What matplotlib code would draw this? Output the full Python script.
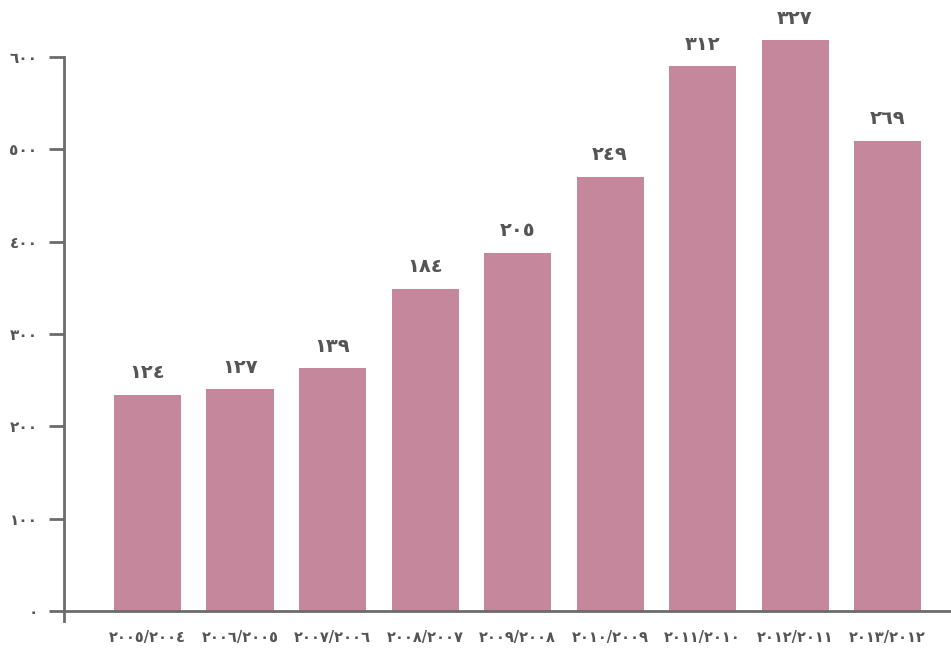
import matplotlib
matplotlib.use('Agg')
import matplotlib.pyplot as plt

# Data
categories = ['٢٠٠٥/٢٠٠٤', '٢٠٠٦/٢٠٠٥', '٢٠٠٧/٢٠٠٦', '٢٠٠٨/٢٠٠٧', '٢٠٠٩/٢٠٠٨',
              '٢٠١٠/٢٠٠٩', '٢٠١١/٢٠١٠', '٢٠١٢/٢٠١١', '٢٠١٣/٢٠١٢']
heights = [234, 240, 263, 349, 388, 470, 590, 618, 509]
bar_labels = ['١٢٤', '١٢٧', '١٣٩', '١٨٤', '٢٠٥', '٢٤٩', '٣١٢', '٣٢٧', '٢٦٩']
yticks = [0, 100, 200, 300, 400, 500, 600]
ytick_labels = ['٠', '١٠٠', '٢٠٠', '٣٠٠', '٤٠٠', '٥٠٠', '٦٠٠']

plt.rcParams['font.family'] = ['DejaVu Sans']
axis_col = '#6b6b6d'
text_col = '#555555'

fig = plt.figure(figsize=(9.51, 6.52), dpi=100)
# axes placed in pixel terms: spine at x=64, zero line at y=611
ax = fig.add_axes([64 / 951, (652 - 621) / 652, (951 - 64) / 951, (621 - 20) / 652])

x = list(range(len(categories)))
ax.bar(x, heights, width=0.725, color='#c5879b', zorder=2)

for xi, h, lab in zip(x, heights, bar_labels):
    ax.annotate(lab, (xi, h), xytext=(0, 9), textcoords='offset points',
                ha='center', va='bottom', fontsize=14, fontweight='bold', color=text_col)

ax.set_xlim(-0.903, 8.686)
ax.set_ylim(-10.8, 640)

ax.set_yticks(yticks)
ax.set_yticklabels(ytick_labels)
ax.set_xticks(x)
ax.set_xticklabels(categories)

for s in ['top', 'right']:
    ax.spines[s].set_visible(False)
ax.spines['bottom'].set_position(('data', 0))
ax.spines['left'].set_bounds(-10.8, 600)
for s in ['left', 'bottom']:
    ax.spines[s].set_color(axis_col)
    ax.spines[s].set_linewidth(2)

ax.tick_params(axis='y', length=11, width=2, color=axis_col, labelcolor=text_col,
               labelsize=11, pad=8)
ax.tick_params(axis='x', length=0, labelcolor=text_col, labelsize=10.5, pad=14)
for t in ax.get_yticklabels() + ax.get_xticklabels():
    t.set_fontweight('bold')

fig.savefig('out.png', dpi=100)
